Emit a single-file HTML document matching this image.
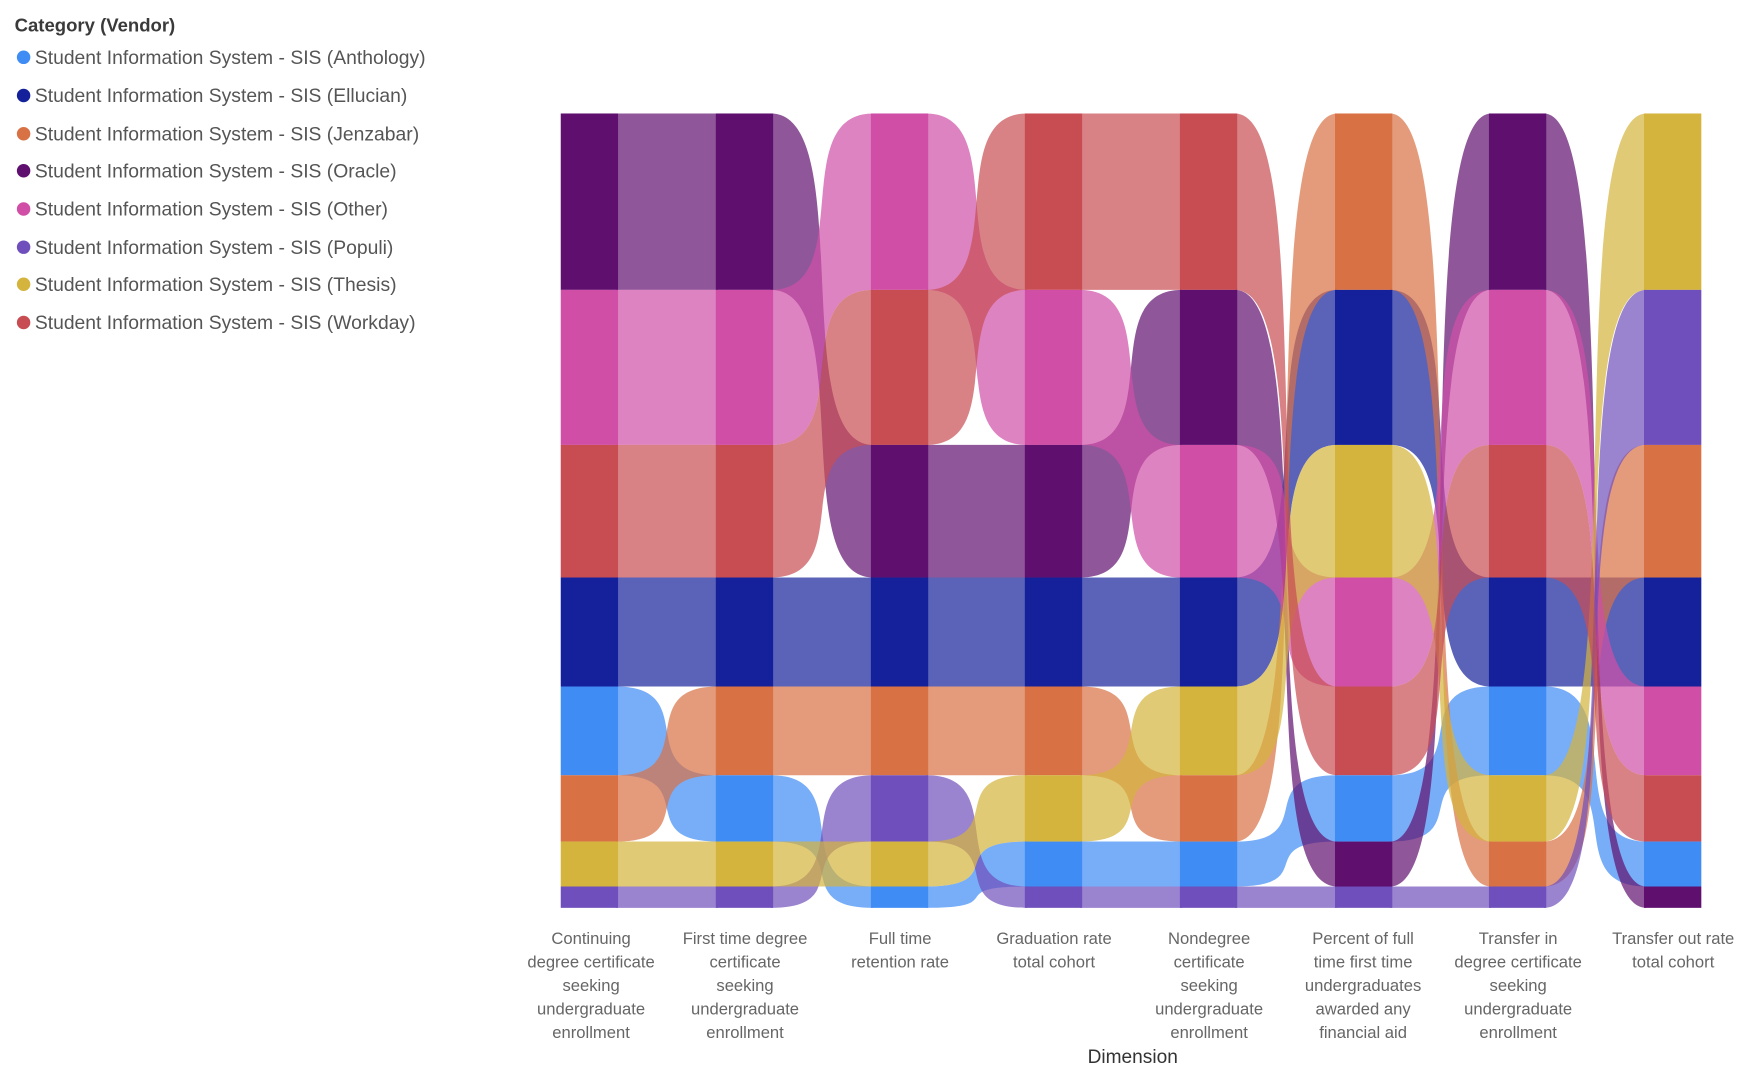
<!DOCTYPE html>
<html><head><meta charset="utf-8"><style>
html,body{margin:0;padding:0;background:#fff;width:1762px;height:1082px;overflow:hidden}
svg{display:block}
text{font-family:"Liberation Sans",sans-serif}
</style></head><body>
<svg id="s" width="1762" height="1082" viewBox="0 0 1568 963" preserveAspectRatio="none" xmlns="http://www.w3.org/2000/svg">
<text x="13" y="28" font-size="16.5" font-weight="bold" fill="#3a3a3a">Category (Vendor)</text>
<g font-size="17.2" fill="#555">
<circle cx="21" cy="51" r="6" fill="#3f8cf5"/><text x="31" y="57">Student Information System - SIS (Anthology)</text>
<circle cx="21" cy="85" r="6" fill="#14219a"/><text x="31" y="91">Student Information System - SIS (Ellucian)</text>
<circle cx="21" cy="119" r="6" fill="#d87144"/><text x="31" y="125">Student Information System - SIS (Jenzabar)</text>
<circle cx="21" cy="152" r="6" fill="#5f0f6e"/><text x="31" y="158">Student Information System - SIS (Oracle)</text>
<circle cx="21" cy="186" r="6" fill="#d04ea6"/><text x="31" y="192">Student Information System - SIS (Other)</text>
<circle cx="21" cy="220" r="6" fill="#6f4fbb"/><text x="31" y="226">Student Information System - SIS (Populi)</text>
<circle cx="21" cy="253" r="6" fill="#d4b43c"/><text x="31" y="259">Student Information System - SIS (Thesis)</text>
<circle cx="21" cy="287" r="6" fill="#c84d52"/><text x="31" y="293">Student Information System - SIS (Workday)</text>
</g>
<g id="links"></g>
<g id="nodes"></g>
<g font-size="14.8" fill="#666" text-anchor="middle">
<text x="526" y="840">Continuing</text><text x="526" y="861">degree certificate</text><text x="526" y="882">seeking</text><text x="526" y="903">undergraduate</text><text x="526" y="924">enrollment</text>
<text x="663" y="840">First time degree</text><text x="663" y="861">certificate</text><text x="663" y="882">seeking</text><text x="663" y="903">undergraduate</text><text x="663" y="924">enrollment</text>
<text x="801" y="840">Full time</text><text x="801" y="861">retention rate</text>
<text x="938" y="840">Graduation rate</text><text x="938" y="861">total cohort</text>
<text x="1076" y="840">Nondegree</text><text x="1076" y="861">certificate</text><text x="1076" y="882">seeking</text><text x="1076" y="903">undergraduate</text><text x="1076" y="924">enrollment</text>
<text x="1213" y="840">Percent of full</text><text x="1213" y="861">time first time</text><text x="1213" y="882">undergraduates</text><text x="1213" y="903">awarded any</text><text x="1213" y="924">financial aid</text>
<text x="1351" y="840">Transfer in</text><text x="1351" y="861">degree certificate</text><text x="1351" y="882">seeking</text><text x="1351" y="903">undergraduate</text><text x="1351" y="924">enrollment</text>
<text x="1489" y="840">Transfer out rate</text><text x="1489" y="861">total cohort</text>
</g>
<text x="1008" y="946" font-size="17" fill="#333" text-anchor="middle">Dimension</text>
</svg>
<script>
var C={An:"#3f8cf5",El:"#14219a",Je:"#d87144",Or:"#5f0f6e",Ot:"#d04ea6",Po:"#6f4fbb",Th:"#d4b43c",Wo:"#c84d52"};
var Y=[101,258,396,514,611,690,749,789,808];
var cols=[
["Or","Ot","Wo","El","An","Je","Th","Po"],
["Or","Ot","Wo","El","Je","An","Th","Po"],
["Ot","Wo","Or","El","Je","Po","Th","An"],
["Wo","Ot","Or","El","Je","Th","An","Po"],
["Wo","Or","Ot","El","Th","Je","An","Po"],
["Je","El","Th","Ot","Wo","An","Or","Po"],
["Or","Ot","Wo","El","An","Th","Je","Po"],
["Th","Po","Je","El","Ot","Wo","An","Or"]];
var X=[499,637,775,912,1050,1188,1325,1463],W=51;
var ns="http://www.w3.org/2000/svg",L=document.getElementById("links"),N=document.getElementById("nodes");
function pos(c,k){var i=cols[c].indexOf(k);return [Y[i],Y[i+1]];}
for(var c=0;c<7;c++){
 var x0=X[c]+W-2,x1=X[c+1]+2,g=x1-x0,p1=x0+0.85*g,p2=x1-0.85*g;
 for(var k in C){var a=pos(c,k),b=pos(c+1,k);
  var p=document.createElementNS(ns,"path");
  p.setAttribute("d","M"+x0+" "+a[0]+"C"+p1+" "+a[0]+" "+p2+" "+b[0]+" "+x1+" "+b[0]+"L"+x1+" "+b[1]+"C"+p2+" "+b[1]+" "+p1+" "+a[1]+" "+x0+" "+a[1]+"Z");
  p.setAttribute("fill",C[k]);p.setAttribute("fill-opacity","0.7");L.appendChild(p);}
}
for(var c=0;c<8;c++){for(var i=0;i<8;i++){var r=document.createElementNS(ns,"rect");
 r.setAttribute("x",X[c]);r.setAttribute("y",Y[i]);r.setAttribute("width",W);r.setAttribute("height",Y[i+1]-Y[i]);
 r.setAttribute("fill",C[cols[c][i]]);N.appendChild(r);}}
</script>
</body></html>
